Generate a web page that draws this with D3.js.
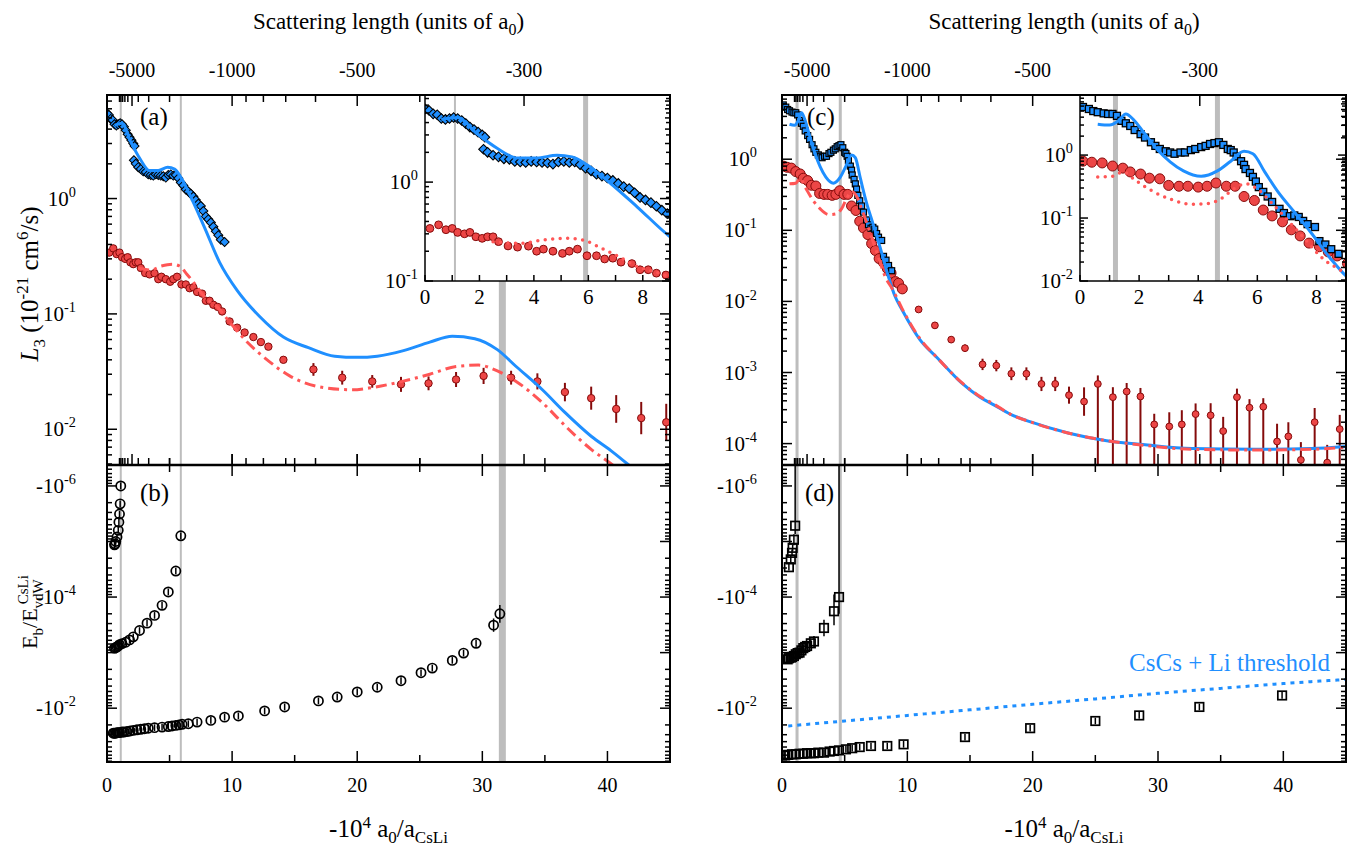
<!DOCTYPE html>
<html><head><meta charset="utf-8">
<script src="https://cdn.jsdelivr.net/npm/d3@7"></script>
<style>body{margin:0;background:#fff} svg{display:block} svg text{font-family:"Liberation Serif", "Times New Roman", Times, "DejaVu Serif", serif !important}</style>
</head><body><svg id="c" width="1356" height="852"></svg>
<script>
// ---------------- DATA ----------------
// Panel (a): L3 for Cs-Cs-Li channel
const aDiaX = [0.0,0.15,0.3,0.45,0.6,0.75,0.9,1.05,1.2,1.35,1.5,1.65,1.8,1.95,2.1,2.2,
  2.15,2.3,2.5,2.7,2.9,3.1,3.3,3.5,3.7,3.9,4.1,4.3,4.5,4.7,4.9,5.1,5.3,5.5,5.7,5.9,6.1,6.3,6.5,6.7,6.9,7.1,7.3,7.5,7.7,7.9,8.1,8.3,8.5,8.7,8.9,9.1,9.4];
const aDiaY = [5.5,5.3,4.9,4.8,4.4,4.3,4.4,4.5,4.4,4.2,3.9,3.6,3.4,3.2,3.0,2.85,
  2.15,2.0,1.87,1.8,1.72,1.7,1.62,1.6,1.58,1.62,1.6,1.58,1.56,1.52,1.6,1.62,1.58,1.6,1.5,1.38,1.3,1.2,1.15,1.1,1.04,0.97,0.9,0.86,0.78,0.7,0.66,0.62,0.57,0.52,0.48,0.44,0.42];
const aRedDenseX = [0.18,0.5,0.77,1.0,1.2,1.45,1.65,1.87,2.1,2.3,2.5,2.7,3.05,3.4,3.8,4.1,4.35,4.7,5.05,5.3,5.6,5.95,6.3,6.6,6.9,7.2,7.6,7.9,8.2,8.5,8.85,9.2,9.8];
const aRedDenseY = [0.34,0.37,0.33,0.34,0.31,0.30,0.31,0.28,0.27,0.28,0.28,0.25,0.226,0.22,0.225,0.20,0.21,0.20,0.19,0.20,0.21,0.18,0.18,0.167,0.17,0.155,0.15,0.13,0.13,0.12,0.115,0.105,0.086];
const aRedDenseErr = [0.03,0.03,0.03,0.03,0.03,0.03,0.03,0.03,0.03,0.03,0.03,0.03,0.03,0.03,0.03,0.03,0.03,0.03,0.03,0.03,0.03,0.03,0.03,0.03,0.03,0.03,0.03,0.03,0.03,0.03,0.03,0.03,0.03];
const aRedSparseX = [10.4,11.0,11.7,12.3,12.9,14.1,16.5,18.8,21.2,23.5,25.7,27.9,30.1,32.3,34.4,36.6,38.7,40.7,42.7,44.7];
const aRedSparseY = [0.076,0.069,0.063,0.057,0.052,0.040,0.033,0.028,0.026,0.0245,0.025,0.027,0.029,0.028,0.026,0.021,0.0186,0.015,0.0125,0.0115];
const aRedSparseErr = [0.01,0.01,0.01,0.012,0.015,0.025,0.055,0.06,0.055,0.065,0.06,0.065,0.07,0.06,0.07,0.08,0.1,0.12,0.14,0.16];
const aBlueCurveX = [0.6,1.2,1.9,2.65,3.4,4.1,4.85,5.4,5.95,6.8,7.8,9.0,10.4,12.2,14.1,16.1,18.2,20.0,21.6,23.7,25.8,27.6,29.4,31.2,32.7,34.8,36.6,38.7,40.3,41.6,43.0];
const aBlueCurveY = [4.3,4.5,3.1,2.2,1.75,1.75,1.87,1.8,1.5,0.98,0.56,0.28,0.16,0.095,0.063,0.051,0.043,0.042,0.043,0.048,0.057,0.064,0.061,0.049,0.035,0.022,0.014,0.0087,0.0065,0.005,0.0037];
const aRedCurveX = [2.5,3.5,4.35,5.2,5.8,6.4,7.05,7.8,8.8,9.8,11.2,12.8,14.6,17.3,19.6,21.2,23.6,25.8,27.9,29.7,31.2,32.7,34.8,36.9,38.7,40.1,41.5];
const aRedCurveY = [0.25,0.24,0.26,0.27,0.26,0.22,0.18,0.14,0.115,0.085,0.057,0.04,0.029,0.023,0.022,0.023,0.026,0.030,0.035,0.036,0.032,0.026,0.017,0.010,0.0067,0.0052,0.004];
const grayLinesA = [1.1, 5.9];
const grayBandA = [31.6];

// Panel (b): binding energies
const bX1 = [0.6,0.65,0.7,0.8,0.9,0.95,1.0,1.05,1.1];
const bE1 = [-1.15e-5,-1.1e-5,-1.0e-5,-8.3e-6,-6.3e-6,-4.5e-6,-3.2e-6,-2.1e-6,-1.0e-6];
const bX2 = [0.6,0.7,0.8,0.9,1.0,1.2,1.5,1.8,2.1,2.6,3.2,3.8,4.4,4.9,5.5,5.9];
const bE2 = [-8.3e-4,-8.1e-4,-7.9e-4,-7.6e-4,-7.2e-4,-6.9e-4,-6.5e-4,-5.9e-4,-5.2e-4,-4.0e-4,-2.95e-4,-2.14e-4,-1.41e-4,-8.1e-5,-3.4e-5,-7.9e-6];
const bX3 = [0.5,0.6,0.7,0.8,0.9,1.0,1.2,1.35,1.6,1.85,2.1,2.4,2.7,3.0,3.3,3.8,4.4,4.9,5.2,5.5,5.75,6.0,6.5,7.2,8.3,9.4,10.5,12.6,14.2,16.9,18.4,20.0,21.6,23.5,25.1,26.0,27.6,28.5,29.5,30.9,31.4];
const bE3 = [-0.0282,-0.0282,-0.0282,-0.0275,-0.0275,-0.0275,-0.0269,-0.0269,-0.0263,-0.0257,-0.0251,-0.0245,-0.024,-0.0234,-0.0229,-0.0224,-0.0219,-0.0214,-0.0209,-0.0204,-0.02,-0.0195,-0.019,-0.0178,-0.0166,-0.0145,-0.0138,-0.0112,-0.0095,-0.0074,-0.0063,-0.0051,-0.0042,-0.0032,-0.0023,-0.0019,-0.00138,-0.00102,-0.00068,-0.00032,-0.0002];
const bErr3 = [0.06,0.06,0.06,0.06,0.06,0.06,0.06,0.06,0.06,0.06,0.06,0.06,0.06,0.06,0.06,0.06,0.06,0.06,0.06,0.06,0.06,0.06,0.06,0.06,0.06,0.06,0.06,0.06,0.06,0.06,0.06,0.06,0.06,0.06,0.06,0.06,0.06,0.06,0.06,0.12,0.16];

// Panel (c): L3 for the other channel
const cSqX = [0.1,0.3,0.45,0.6,0.8,0.95,1.1,1.25,1.4,1.55,1.7,1.85,2.05,2.2,2.4,2.55,2.7,2.9,3.05,3.2,3.4,3.55,3.75,3.9,4.1,4.25,4.4,4.55,4.7,4.85,5.0,5.1,5.2,5.3,5.45,5.55,5.6,5.75,5.85,5.95,6.05,6.2,6.35,6.5,6.75,6.9,7.1,7.25,7.4,7.55,7.7,7.95,8.1,8.3,8.5,8.75];
const cSqY = [5.8,5.4,5.0,4.8,4.6,4.5,4.5,4.2,3.5,3.2,2.9,2.5,2.15,1.9,1.6,1.4,1.25,1.15,1.1,1.05,1.1,1.1,1.2,1.25,1.34,1.4,1.5,1.55,1.6,1.45,1.25,1.2,1.1,0.95,0.8,0.7,0.6,0.52,0.45,0.38,0.31,0.26,0.22,0.18,0.14,0.12,0.107,0.11,0.104,0.09,0.08,0.072,0.043,0.038,0.032,0.027];
const cRedDenseX = [0.1,0.4,0.75,1.1,1.45,1.7,2.05,2.35,2.7,3.0,3.35,3.65,4.0,4.3,4.6,4.95,5.25,5.55,5.9,6.2,6.5,6.85,7.15,7.45,7.75,8.1,8.4,8.7,9.05,9.3,9.6];
const cRedDenseY = [0.8,0.77,0.75,0.67,0.62,0.54,0.5,0.43,0.42,0.33,0.32,0.32,0.31,0.32,0.36,0.32,0.32,0.22,0.19,0.134,0.108,0.087,0.065,0.052,0.04,0.035,0.029,0.025,0.019,0.018,0.015];
const cRedSparseX = [10.9,12.2,13.5,14.6,16.0,17.1,18.3,19.5,20.7,21.8,22.9,24.1,25.2,26.4,27.5,28.6,29.7,30.9,31.9,33.0,34.2,35.2,36.3,37.3,38.4,39.5,40.4,41.4,42.5,43.5,44.5];
const cRedSparseY = [0.0077,0.0046,0.0029,0.0022,0.0013,0.00125,0.00096,0.00096,0.00069,0.00069,0.00048,0.00039,0.00069,0.00045,0.00054,0.00046,0.000186,0.000174,0.000186,0.00026,0.00025,0.00015,0.00045,0.00032,0.00033,0.000107,0.000126,0.000059,0.0002,0.000054,0.00016];
const cRedSparseErrLo = [0.03,0.04,0.04,0.05,0.08,0.08,0.09,0.09,0.1,0.1,0.12,0.2,3,3,3,3,3,3,3,3,3,3,3,3,3,3,3,3,3,3,3];
const cRedSparseErrHi = [0.03,0.04,0.04,0.05,0.08,0.08,0.09,0.09,0.1,0.1,0.12,0.2,0.12,0.14,0.12,0.12,0.15,0.2,0.2,0.15,0.17,0.2,0.12,0.12,0.12,0.25,0.2,0.25,0.2,0.25,0.2];
const cBlueCurveX = [0.6,1.0,1.3,1.55,1.8,2.15,2.6,3.05,3.5,4.1,4.65,5.1,5.55,5.85,6.25,6.7,7.25,7.8,8.5,9.0,9.6,11.0,12.4,14.3,15.8,16.9,18.2,19.9,22.9,25.9,28.8,32.7,37.8,42.2,45.0];
const cBlueCurveY = [3.1,3.0,3.5,4.5,3.7,2.3,1.25,0.78,0.56,0.46,0.56,0.8,1.15,1.05,0.54,0.26,0.125,0.06,0.022,0.012,0.0075,0.0029,0.0016,0.00072,0.00045,0.00035,0.00026,0.0002,0.00014,0.00011,0.000097,0.000085,0.000083,0.000085,0.000091];
const cRedCurveX = [0.6,1.1,1.45,1.9,2.5,3.05,3.75,4.3,4.75,5.2,5.6,6.0,6.45,7.05,7.6,8.25,8.85,9.6,11.0,12.4,14.3,15.8,16.9,18.2,19.9,22.9,25.9,28.8,32.7,37.8,42.2,45.0];
const cRedCurveY = [0.45,0.46,0.54,0.39,0.26,0.2,0.166,0.17,0.2,0.29,0.35,0.29,0.18,0.09,0.047,0.022,0.0145,0.0078,0.003,0.0016,0.00073,0.00046,0.00036,0.00026,0.0002,0.00014,0.00011,0.000095,0.000083,0.000081,0.000083,0.000089];
const grayLinesC = [1.2, 4.65];

// Panel (d)
const dX1 = [0.55,0.7,0.8,0.85,0.95,1.05];
const dE1 = [-2.9e-5,-2.1e-5,-1.6e-5,-1.3e-5,-9.3e-6,-5.2e-6];
const dErrLo1 = [0.06,0.06,0.06,0.06,0.1,0.15];
const dErrHi1 = [0.06,0.06,0.06,0.06,0.1,4];
const dX2 = [0.45,0.55,0.7,0.8,0.95,1.1,1.25,1.4,1.55,1.7,1.85,2.0,2.3,2.55,3.35,4.15,4.55];
const dE2 = [-1.32e-3,-1.26e-3,-1.23e-3,-1.2e-3,-1.15e-3,-1.07e-3,-1.02e-3,-1.0e-3,-9.1e-4,-8.3e-4,-7.9e-4,-7.6e-4,-6.8e-4,-6.3e-4,-3.6e-4,-1.8e-4,-1.0e-4];
const dErrLo2 = [0.06,0.06,0.06,0.06,0.06,0.06,0.06,0.06,0.06,0.06,0.06,0.06,0.06,0.1,0.15,0.25,0.3];
const dErrHi2 = [0.06,0.06,0.06,0.06,0.06,0.06,0.06,0.06,0.06,0.06,0.06,0.06,0.06,0.1,0.15,0.3,4];
const dX3 = [0.25,0.5,0.8,1.1,1.4,1.7,2.0,2.3,2.55,2.9,3.35,3.8,4.15,4.55,5.1,5.6,6.2,7.1,8.4,9.7,14.6,19.8,25.0,28.5,33.3,39.9];
const dE3 = [-0.0708,-0.0692,-0.0676,-0.0676,-0.0661,-0.0661,-0.0646,-0.0646,-0.0646,-0.0631,-0.0631,-0.0603,-0.0589,-0.0575,-0.0550,-0.0525,-0.0501,-0.0479,-0.0479,-0.0447,-0.0331,-0.0229,-0.0170,-0.0135,-0.0095,-0.0059];
const dErr3 = [0.06,0.06,0.06,0.06,0.06,0.06,0.06,0.06,0.06,0.06,0.06,0.06,0.06,0.06,0.06,0.06,0.06,0.06,0.06,0.06,0.06,0.06,0.06,0.06,0.06,0.06];
const threshX = [0.5,5,10,15,20,25,30,35,40,45.5];
const threshE = [-0.0209,-0.0170,-0.0135,-0.0107,-0.0085,-0.0068,-0.0054,-0.0044,-0.0036,-0.0030];

// Tick definitions
const xMajor = [0,10,20,30,40];
const xMinor = [5,15,25,35,45];
const scatMajor = [-5000,-1000,-500,-300];
const scatMajorLabels = ["-5000","-1000","-500","-300"];
const scatMinor = [-10000,-9000,-8000,-7000,-6000,-4000,-3000,-2000,-900,-800,-700,-600,-400];
const aYLabels = [1e0,1e-1,1e-2];
const cYLabels = [1e0,1e-1,1e-2,1e-3,1e-4];
const bYLabels = [-1e-6,-1e-4,-1e-2];
const insetXTicks = [0,1,2,3,4,5,6,7,8,9];
const insetXLabels = [0,2,4,6,8];
const insetAYLabels = [1e0,1e-1];
const insetCYLabels = [1e0,1e-1,1e-2];

// ---------------- STYLE / LAYOUT ----------------
const FONT = "Liberation Serif, Times New Roman, Times, DejaVu Serif, serif";
const BLUE = "#1f8fff", REDF = "#ec4646", REDD = "#850b0b", REDL = "#ff5656", GRAY = "#bdbdbd";
const LX0 = 107, LX1 = 670, RX0 = 782, RX1 = 1346;
const TY0 = 95, MY = 465, BY1 = 762;
const IY1 = 281, IAX0 = 425, ICX0 = 1080;

const xL = d3.scaleLinear([0,45],[LX0,LX1]);
const xR = d3.scaleLinear([0,45],[RX0,RX1]);
const yA = d3.scaleLog([0.0049,7.9],[MY,TY0]);
const yC = d3.scaleLog([5e-5,8],[MY,TY0]);
const yB = d3.scaleLog([-4.2e-7,-0.093],[MY,BY1]);
const xIA = d3.scaleLinear([0,9],[IAX0,LX1]);
const yIA = d3.scaleLog([0.1,7.6],[IY1,TY0]);
const xIC = d3.scaleLinear([0,9],[ICX0,RX1]);
const yIC = d3.scaleLog([0.01,9],[IY1,TY0]);

const svg = d3.select("#c");
const defs = svg.append("defs");
function clip(id,x0,y0,x1,y1){defs.append("clipPath").attr("id",id).append("rect").attr("x",x0).attr("y",y0).attr("width",x1-x0).attr("height",y1-y0);return `url(#${id})`;}
const zip = (xs,ys)=>xs.map((x,i)=>[x,ys[i]]);

function grayLine(g,xS,y0,y1,xv,w){g.append("line").attr("x1",xS(xv)).attr("x2",xS(xv)).attr("y1",y0).attr("y2",y1).attr("stroke",GRAY).attr("stroke-width",w);}
function curve(g,xs,ys,xS,yS,color,w,dash){
  const p=g.append("path").datum(zip(xs,ys)).attr("fill","none").attr("stroke",color).attr("stroke-width",w)
    .attr("d",d3.line().x(d=>xS(d[0])).y(d=>yS(d[1])).curve(d3.curveMonotoneX));
  if(dash){p.attr("stroke-dasharray",dash);}
  return p;
}
function errBars(g,xs,ys,lo,hi,xS,yS,color,w){
  xs.forEach((x,i)=>{g.append("line").attr("x1",xS(x)).attr("x2",xS(x))
    .attr("y1",yS(ys[i]*Math.pow(10,-lo[i]))).attr("y2",yS(ys[i]*Math.pow(10,hi[i])))
    .attr("stroke",color).attr("stroke-width",w);});
}
// for negative energies: "hi" = toward smaller magnitude (up), "lo" = toward larger magnitude (down)
function errBarsNeg(g,xs,ys,lo,hi,xS,yS,color,w){
  xs.forEach((x,i)=>{g.append("line").attr("x1",xS(x)).attr("x2",xS(x))
    .attr("y1",yS(ys[i]*Math.pow(10,-hi[i]))).attr("y2",yS(ys[i]*Math.pow(10,lo[i])))
    .attr("stroke",color).attr("stroke-width",w);});
}
function circles(g,xs,ys,xS,yS,r,fill,stroke,sw){
  g.selectAll(null).data(zip(xs,ys)).enter().append("circle").attr("cx",d=>xS(d[0])).attr("cy",d=>yS(d[1]))
    .attr("r",r).attr("fill",fill).attr("stroke",stroke).attr("stroke-width",sw);
}
function squares(g,xs,ys,xS,yS,s,fill,stroke,sw,rot){
  g.selectAll(null).data(zip(xs,ys)).enter().append("rect").attr("x",-s/2).attr("y",-s/2).attr("width",s).attr("height",s)
    .attr("transform",d=>`translate(${xS(d[0])},${yS(d[1])}) rotate(${rot})`)
    .attr("fill",fill).attr("stroke",stroke).attr("stroke-width",sw);
}
function txt(g,x,y,size,anchor){return g.append("text").attr("x",x).attr("y",y).attr("font-size",size).attr("text-anchor",anchor||"start").attr("font-family",FONT).attr("fill","#000");}
function powText(g,x,y,prefix,exp,size,anchor){
  const t=txt(g,x,y,size,anchor);
  t.append("tspan").text(prefix+"10");
  t.append("tspan").attr("dy",-size*0.42).attr("font-size",size*0.68).text(exp);
  return t;
}
function tick(g,x1,y1,x2,y2,w){g.append("line").attr("x1",x1).attr("y1",y1).attr("x2",x2).attr("y2",y2).attr("stroke","#000").attr("stroke-width",w||1.5);}
function yTicks(g,yS,x0,x1,y0,y1,lenMaj,lenMin){
  yS.ticks().forEach(v=>{
    const py=yS(v); if(py<Math.min(y0,y1)-0.5||py>Math.max(y0,y1)+0.5) return;
    const l=Math.abs(Math.log10(Math.abs(v))%1)<1e-6?lenMaj:lenMin;
    tick(g,x0,py,x0+l,py); tick(g,x1,py,x1-l,py);
  });
}

// ---------------- MAIN PANELS: data ----------------
const clipA=clip("cA",LX0,TY0,LX1,MY), clipB=clip("cB",LX0,MY,LX1,BY1), clipC=clip("cC",RX0,TY0,RX1,MY), clipD=clip("cD",RX0,MY,RX1,BY1);

// (a)
const gA=svg.append("g").attr("clip-path",clipA);
grayLinesA.forEach(v=>grayLine(gA,xL,TY0,MY,v,2));
grayBandA.forEach(v=>grayLine(gA,xL,TY0,MY,v,7));
squares(gA,aDiaX,aDiaY,xL,yA,6.4,BLUE,"#000",1,45);
errBars(gA,aRedDenseX,aRedDenseY,aRedDenseErr,aRedDenseErr,xL,yA,REDD,2);
errBars(gA,aRedSparseX,aRedSparseY,aRedSparseErr,aRedSparseErr,xL,yA,REDD,2);
circles(gA,aRedDenseX,aRedDenseY,xL,yA,3.7,REDF,REDD,1);
circles(gA,aRedSparseX,aRedSparseY,xL,yA,3.7,REDF,REDD,1);
curve(gA,aBlueCurveX,aBlueCurveY,xL,yA,BLUE,3);
curve(gA,aRedCurveX,aRedCurveY,xL,yA,REDL,3,"11,5,3,5");

// (b)
const gB=svg.append("g").attr("clip-path",clipB);
grayLinesA.forEach(v=>grayLine(gB,xL,MY,BY1,v,2));
grayBandA.forEach(v=>grayLine(gB,xL,MY,BY1,v,7));
errBarsNeg(gB,bX1,bE1,bX1.map(()=>0.06),bX1.map(()=>0.06),xL,yB,"#000",1.5);
errBarsNeg(gB,bX2,bE2,bX2.map(()=>0.06),bX2.map(()=>0.06),xL,yB,"#000",1.5);
errBarsNeg(gB,bX3,bE3,bErr3,bErr3,xL,yB,"#000",1.5);
circles(gB,bX1,bE1,xL,yB,4.6,"none","#000",1.7);
circles(gB,bX2,bE2,xL,yB,4.6,"none","#000",1.7);
circles(gB,bX3,bE3,xL,yB,4.6,"none","#000",1.7);

// (c)
const gC=svg.append("g").attr("clip-path",clipC);
grayLinesC.forEach(v=>grayLine(gC,xR,TY0,MY,v,3));
circles(gC,cRedDenseX,cRedDenseY,xR,yC,5,REDF,REDD,1);
squares(gC,cSqX,cSqY,xR,yC,6,BLUE,"#000",1.2,0);
errBars(gC,cRedSparseX,cRedSparseY,cRedSparseErrLo,cRedSparseErrHi,xR,yC,REDD,2);
circles(gC,cRedSparseX,cRedSparseY,xR,yC,3.4,REDF,REDD,1);
curve(gC,cBlueCurveX,cBlueCurveY,xR,yC,BLUE,3);
curve(gC,cRedCurveX,cRedCurveY,xR,yC,REDL,3,"11,5,3,5");

// (d)
const gD=svg.append("g").attr("clip-path",clipD);
grayLinesC.forEach(v=>grayLine(gD,xR,MY,BY1,v,3));
curve(gD,threshX,threshE,xR,yB,BLUE,3,"4,5");
errBarsNeg(gD,dX1,dE1,dErrLo1,dErrHi1,xR,yB,"#000",1.5);
errBarsNeg(gD,dX2,dE2,dErrLo2,dErrHi2,xR,yB,"#000",1.5);
errBarsNeg(gD,dX3,dE3,dErr3,dErr3,xR,yB,"#000",1.5);
squares(gD,dX1,dE1,xR,yB,8.5,"none","#000",1.7,0);
squares(gD,dX2,dE2,xR,yB,8.5,"none","#000",1.7,0);
squares(gD,dX3,dE3,xR,yB,8.5,"none","#000",1.7,0);
txt(svg,1330,671,25,"end").attr("fill",BLUE).style("fill",BLUE).text("CsCs + Li threshold");

// ---------------- INSETS ----------------
function inset(id,x0,x1){
  const ga=svg.append("g");
  ga.append("rect").attr("x",x0).attr("y",TY0).attr("width",x1-x0).attr("height",IY1-TY0).attr("fill","#fff");
  const g=ga.append("g").attr("clip-path",clip(id,x0,TY0,x1,IY1));
  return {outer:ga,g:g};
}
function insetFrame(ga,x0,x1,xS,yS,labels){
  ga.append("rect").attr("x",x0).attr("y",TY0).attr("width",x1-x0).attr("height",IY1-TY0).attr("fill","none").attr("stroke","#000").attr("stroke-width",1.5);
  insetXTicks.forEach(v=>tick(ga,xS(v),IY1,xS(v),IY1-6));
  yTicks(ga,yS,x0,x1,TY0,IY1,8,4);
  insetXLabels.forEach(v=>txt(ga,xS(v),IY1+23,21,"middle").text(v));
  labels.forEach(v=>powText(ga,x0-7,yS(v)+7,"",String(Math.round(Math.log10(v))),21,"end"));
}
// inset (a)
const IA=inset("cIA",IAX0,LX1);
grayLine(IA.g,xIA,TY0,IY1,grayLinesA[0],2);
grayLine(IA.g,xIA,TY0,IY1,grayLinesA[1],5);
squares(IA.g,aDiaX,aDiaY,xIA,yIA,6.8,BLUE,"#000",1.1,45);
errBars(IA.g,aRedDenseX,aRedDenseY,aRedDenseErr,aRedDenseErr,xIA,yIA,REDD,2);
circles(IA.g,aRedDenseX,aRedDenseY,xIA,yIA,3.9,REDF,REDD,1);
circles(IA.g,aRedSparseX,aRedSparseY,xIA,yIA,3.9,REDF,REDD,1);
curve(IA.g,aBlueCurveX,aBlueCurveY,xIA,yIA,BLUE,3);
curve(IA.g,aRedCurveX,aRedCurveY,xIA,yIA,REDL,3.5,"0,7.5").attr("stroke-linecap","round");
insetFrame(IA.outer,IAX0,LX1,xIA,yIA,insetAYLabels);

// inset (c)
const IC=inset("cIC",ICX0,RX1);
grayLinesC.forEach(v=>grayLine(IC.g,xIC,TY0,IY1,v,5));
circles(IC.g,cRedDenseX,cRedDenseY,xIC,yIC,5,REDF,REDD,1);
squares(IC.g,cSqX,cSqY,xIC,yIC,7,BLUE,"#000",1.3,0);
curve(IC.g,cBlueCurveX,cBlueCurveY,xIC,yIC,BLUE,3);
curve(IC.g,cRedCurveX,cRedCurveY,xIC,yIC,REDL,3.5,"0,7.5").attr("stroke-linecap","round");
insetFrame(IC.outer,ICX0,RX1,xIC,yIC,insetCYLabels);

// ---------------- AXES ----------------
function frame(x0,x1,xS,yTop,yBotS,labelsTop,labelsBot,labelX){
  const g=svg.append("g");
  g.append("rect").attr("x",x0).attr("y",TY0).attr("width",x1-x0).attr("height",BY1-TY0).attr("fill","none").attr("stroke","#000").attr("stroke-width",2);
  g.append("line").attr("x1",x0).attr("x2",x1).attr("y1",MY).attr("y2",MY).attr("stroke","#000").attr("stroke-width",2.5);
  scatMajor.forEach(a=>{const px=xS(-1e4/a); tick(g,px,TY0,px,TY0+11); tick(g,px,MY,px,MY-11);});
  scatMinor.forEach(a=>{const px=xS(-1e4/a); tick(g,px,TY0,px,TY0+7); tick(g,px,MY,px,MY-7);});
  scatMajor.forEach((a,i)=>txt(g,xS(-1e4/a),77,20,"middle").text(scatMajorLabels[i]));
  xMajor.forEach(v=>{const px=xS(v); tick(g,px,BY1,px,BY1-11); tick(g,px,MY,px,MY+11); tick(g,px,MY,px,MY-11);});
  xMinor.forEach(v=>{const px=xS(v); if(px>x1) return; tick(g,px,BY1,px,BY1-7); tick(g,px,MY,px,MY+7); tick(g,px,MY,px,MY-7);});
  xMajor.forEach(v=>txt(g,xS(v),792,20,"middle").text(v));
  yTicks(g,yTop,x0,x1,TY0,MY,10,5);
  yTicks(g,yBotS,x0,x1,MY,BY1,10,5);
  labelsTop.forEach(v=>powText(g,labelX,yTop(v)+7,"",String(Math.round(Math.log10(v))),21,"end"));
  labelsBot.forEach(v=>powText(g,labelX,yBotS(v)+7,"-",String(Math.round(Math.log10(-v))),21,"end"));
  const t=txt(g,(x0+x1)/2,29,23,"middle");
  t.append("tspan").text("Scattering length (units of a");
  t.append("tspan").attr("dy",6).attr("font-size",16).text("0");
  t.append("tspan").attr("dy",-6).text(")");
  const b=txt(g,(x0+x1)/2,837,25,"middle");
  b.append("tspan").text("-10");
  b.append("tspan").attr("dy",-9).attr("font-size",17).text("4");
  b.append("tspan").attr("dy",9).text(" a");
  b.append("tspan").attr("dy",6).attr("font-size",17).text("0");
  b.append("tspan").attr("dy",-6).text("/a");
  b.append("tspan").attr("dy",6).attr("font-size",17).text("CsLi");
  return g;
}
frame(LX0,LX1,xL,yA,yB,aYLabels,bYLabels,76);
frame(RX0,RX1,xR,yC,yB,cYLabels,bYLabels,757);

// panel letters
[["(a)",140,125],["(b)",140,501],["(c)",807,125],["(d)",805,501]].forEach(d=>txt(svg,d[1],d[2],25).text(d[0]));

// y titles
const yt=txt(svg,0,0,25,"middle").attr("x",null).attr("y",null).attr("transform","translate(38,284) rotate(-90)");
yt.append("tspan").attr("font-style","italic").text("L");
yt.append("tspan").attr("dy",7).attr("font-size",17).text("3");
yt.append("tspan").attr("dy",-7).text(" (10");
yt.append("tspan").attr("dy",-10).attr("font-size",17).text("-21");
yt.append("tspan").attr("dy",10).text(" cm");
yt.append("tspan").attr("dy",-10).attr("font-size",17).text("6");
yt.append("tspan").attr("dy",10).text("/s)");

const et=txt(svg,0,0,22,"middle").attr("x",null).attr("y",null).attr("transform","translate(37,612) rotate(-90)");
et.append("tspan").text("E");
et.append("tspan").attr("dy",6).attr("font-size",15).text("b");
et.append("tspan").attr("dy",-6).text("/E");
et.append("tspan").attr("dy",6).attr("font-size",15).text("vdW");
et.append("tspan").attr("dx",-25).attr("dy",-15).attr("font-size",15).text("CsLi");
</script></body></html>
